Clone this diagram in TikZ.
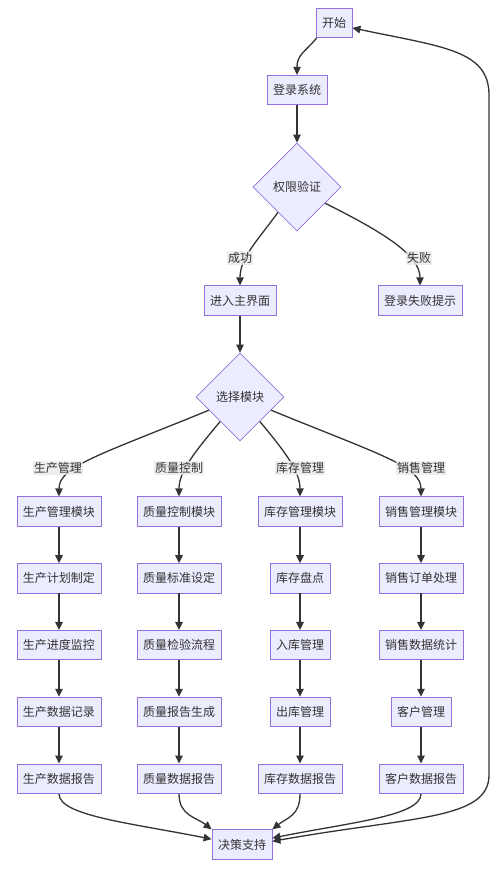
\documentclass[tikz,border=0pt]{standalone}
\usepackage{fontspec}
\setmainfont{Noto Sans CJK SC}
\usetikzlibrary{positioning,arrows.meta,shapes.geometric}
\definecolor{nodefill}{HTML}{ECECFF}
\definecolor{nodeline}{HTML}{9370DB}
\definecolor{edge}{HTML}{333333}
\definecolor{lblfill}{HTML}{E8E8E8}

\begin{document}
\begin{tikzpicture}[x=1pt, y=1pt, >={Triangle[length=8pt,width=7.5pt]}, node distance=36.5pt, every node/.style={font=\fontsize{12}{14}\selectfont, text=edge}]
  % compact, consistent styles
  \tikzset{block/.style={draw=nodeline, fill=nodefill, line width=0.8pt, minimum height=29.5pt, inner xsep=6pt, inner ysep=0pt},
    decision/.style={diamond, draw=nodeline, fill=nodefill, line width=0.8pt, minimum width=88pt, minimum height=88pt, inner sep=0pt},
    lbl/.style={fill=lblfill, fill opacity=0.8, text opacity=1, inner sep=1pt},
    link/.style={->, draw=edge, line width=1.3pt}}
  \useasboundingbox (0,0) rectangle (501,-873);

  % login part
  \node[block] (start) at (334,-23) {开始};
  \node[block] (login) at (297,-90) {登录系统};
  \node[decision] (auth) at (297,-187) {权限验证};
  \node[block] (main) at (240,-300.5) {进入主界面};
  \node[block] (fail) at (420,-300.5) {登录失败提示};
  \node[decision] (choose) at (240,-397) {选择模块};

  % four module columns
  \node[block] (prod) at (59,-511.5) {生产管理模块};
  \node[block, below=of prod] (prodplan) {生产计划制定};
  \node[block, below=of prodplan] (prodtrack) {生产进度监控};
  \node[block, below=of prodtrack] (prodrec) {生产数据记录};
  \node[block, below=of prodrec] (prodrep) {生产数据报告};

  \node[block] (qual) at (179,-511.5) {质量控制模块};
  \node[block, below=of qual] (qualstd) {质量标准设定};
  \node[block, below=of qualstd] (qualchk) {质量检验流程};
  \node[block, below=of qualchk] (qualgen) {质量报告生成};
  \node[block, below=of qualgen] (qualrep) {质量数据报告};

  \node[block] (stock) at (300,-511.5) {库存管理模块};
  \node[block, below=of stock] (stockcnt) {库存盘点};
  \node[block, below=of stockcnt] (stockin) {入库管理};
  \node[block, below=of stockin] (stockout) {出库管理};
  \node[block, below=of stockout] (stockrep) {库存数据报告};

  \node[block] (sales) at (421,-511.5) {销售管理模块};
  \node[block, below=of sales] (salesord) {销售订单处理};
  \node[block, below=of salesord] (salesstat) {销售数据统计};
  \node[block, below=of salesstat] (cust) {客户管理};
  \node[block, below=of cust] (custrep) {客户数据报告};

  \node[block] (decide) at (242,-844.5) {决策支持};

  % arrows
  \draw[link] ([xshift=1pt]start.south west) .. controls +(-12,-14) and +(0,20) .. (login.north);
  \draw[link] (login) -- (auth);
  \draw[link] (auth.-127) .. controls +(-20,-28) and +(0,28) .. (main.north);
  \draw[link] (auth.-30) .. controls +(60,-30) and +(0,30) .. (fail.north);
  \draw[link] (main) -- (choose);
  \draw[link] (choose.-157) .. controls +(-110,-45) and +(0,30) .. (prod.north);
  \draw[link] (choose.-129) .. controls +(-25,-30) and +(0,25) .. (qual.north);
  \draw[link] (choose.-51) .. controls +(25,-30) and +(0,25) .. (stock.north);
  \draw[link] (choose.-23) .. controls +(110,-45) and +(0,30) .. (sales.north);
  \foreach \a/\b in {prod/prodplan, prodplan/prodtrack, prodtrack/prodrec, prodrec/prodrep,
      qual/qualstd, qualstd/qualchk, qualchk/qualgen, qualgen/qualrep,
      stock/stockcnt, stockcnt/stockin, stockin/stockout, stockout/stockrep,
      sales/salesord, salesord/salesstat, salesstat/cust, cust/custrep}
    \draw[link] (\a) -- (\b);
  \draw[link] (prodrep.south) .. controls +(0,-22) and +(-80,16) .. (decide.170);
  \draw[link] (qualrep.south) .. controls +(0,-22) and +(-15,12) .. (decide.north west);
  \draw[link] (stockrep.south) .. controls +(0,-22) and +(15,12) .. (decide.north east);
  \draw[link] (custrep.south) .. controls +(0,-22) and +(80,16) .. (decide.12);
  \draw[link, <->] (decide.6) .. controls +(140,25) and +(0,-45) .. (489,-775) -- (489,-95)
    .. controls +(0,45) and +(90,-19) .. (start.-15);

  % edge labels
  \node[lbl] (ok) at (240,-258) {成功};
  \node[lbl] (ko) at (419,-258) {失败};
  \node[lbl] (lprod) at (58,-468) {生产管理};
  \node[lbl] (lqual) at (179,-468) {质量控制};
  \node[lbl] (lstock) at (300,-468) {库存管理};
  \node[lbl] (lsales) at (421,-468) {销售管理};
\end{tikzpicture}
\end{document}
